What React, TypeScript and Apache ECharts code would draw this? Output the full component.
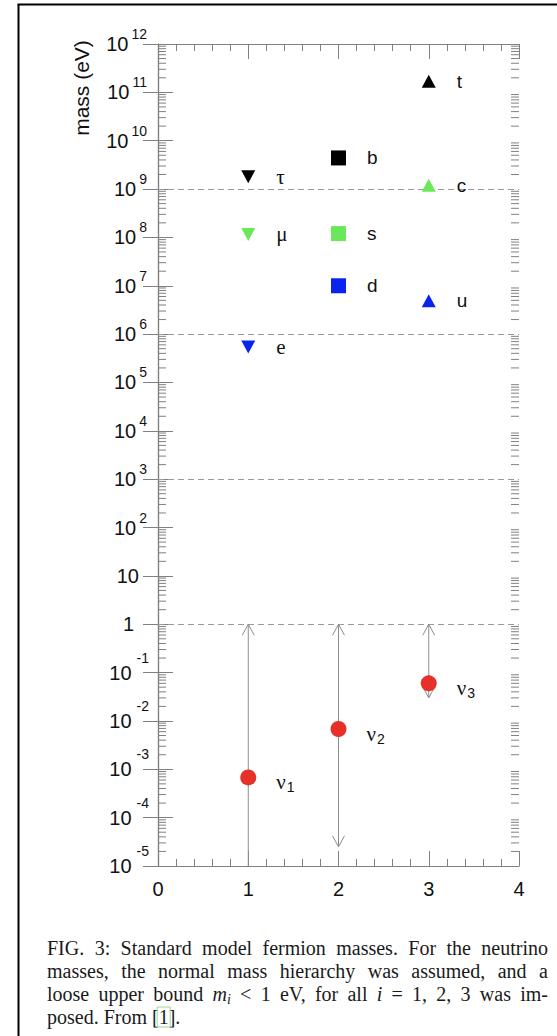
import React, { useEffect, useRef } from 'react';
import * as echarts from 'echarts';

// Generation slots on the horizontal axis
const leptonSlot = 1;
const downQuarkSlot = 2;
const upQuarkSlot = 3;

// Charged leptons (eV)
const leptonNames = ['τ', 'μ', 'e'];
const leptonMass = [1.8e9, 1.15e8, 5.4e5];

// Down-type quarks (eV)
const downQuarkNames = ['b', 's', 'd'];
const downQuarkMass = [4.4e9, 1.2e8, 1.0e7];

// Up-type quarks (eV)
const upQuarkNames = ['t', 'c', 'u'];
const upQuarkMass = [1.7e11, 1.2e9, 4.9e6];

// Neutrinos (eV): central value, allowed range, and whether the lower end is an arrow
const neutrinoSlots = [1, 2, 3];
const neutrinoIndex = ['1', '2', '3'];
const neutrinoMass = [6.8e-4, 6.8e-3, 6.0e-2];
const neutrinoLow = [1e-5, 2.5e-5, 3e-2];
const neutrinoHigh = [1, 1, 1];
const neutrinoLowArrow = [0, 1, 1];

// Colours per generation: third, second, first
const generationColors = ['#000000', '#6be85a', '#0a24f0'];
const neutrinoColor = '#e6302a';

// Horizontal dashed guides (eV)
const guideMass = [1e9, 1e6, 1e3, 1, 1e-3];

// Axis ranges
const xMin = 0;
const xMax = 4;
const massMin = 1e-5;
const massMax = 1e12;

const captionLines = [
  'FIG. 3: Standard model fermion masses. For the neutrino',
  'masses, the normal mass hierarchy was assumed, and a',
  'loose upper bound *m*~i~ < 1 eV, for all *i* = 1, 2, 3 was im-',
  'posed. From [1].',
];

const AXIS_GRAY = '#808080';
const SANS = '"Liberation Sans", Arial, Helvetica, sans-serif';
const SERIF = '"Liberation Serif", "Times New Roman", serif';

function buildMinorTicks(): number[] {
  const out: number[] = [];
  const lo = Math.round(Math.log10(massMin));
  const hi = Math.round(Math.log10(massMax));
  for (let e = lo; e < hi; e++) {
    for (let k = 2; k <= 9; k++) out.push(k * Math.pow(10, e));
  }
  return out;
}

type Seg = { t: string; k: 'r' | 'i' | 'sub' };

function parseWord(w: string): Seg[] {
  const parts = w.split(/(\*[^*]+\*|~[^~]+~)/).filter((p) => p.length > 0);
  return parts.map((p) => {
    if (p.startsWith('*')) return { t: p.slice(1, -1), k: 'i' as const };
    if (p.startsWith('~')) return { t: p.slice(1, -1), k: 'sub' as const };
    return { t: p, k: 'r' as const };
  });
}

function buildCaption(): any[] {
  const canvas = document.createElement('canvas');
  const ctx = canvas.getContext('2d')!;
  const size = 20;
  const subSize = 14;
  const fontOf = (k: Seg['k']) =>
    k === 'r'
      ? `${size}px ${SERIF}`
      : k === 'i'
      ? `italic ${size}px ${SERIF}`
      : `italic ${subSize}px ${SERIF}`;
  const measure = (s: Seg) => {
    ctx.font = fontOf(s.k);
    return ctx.measureText(s.t).width;
  };
  ctx.font = fontOf('r');
  const spaceW = ctx.measureText(' ').width;
  const left = 47;
  const right = 548;
  const lineY = [948, 971, 994, 1017];
  const els: any[] = [];
  captionLines.forEach((line, li) => {
    const words = line.split(' ').map(parseWord);
    const widths = words.map((segs) => segs.reduce((a, s) => a + measure(s), 0));
    const total = widths.reduce((a, b) => a + b, 0);
    const justify = li < captionLines.length - 1;
    const gap = justify ? Math.max(2, (right - left - total) / (words.length - 1)) : spaceW;
    let x = left;
    words.forEach((segs, wi) => {
      let sx = x;
      segs.forEach((s) => {
        const w = measure(s);
        els.push({
          type: 'text',
          x: sx,
          y: lineY[li] + (s.k === 'sub' ? 5 : 0),
          silent: true,
          style: {
            text: s.t,
            fontSize: s.k === 'sub' ? subSize : size,
            fontFamily: SERIF,
            fontStyle: s.k === 'r' ? 'normal' : 'italic',
            fill: '#1a1a1a',
            align: 'left',
            verticalAlign: 'middle',
            textAlign: 'left',
            textVerticalAlign: 'middle',
          },
        });
        // reference-link box around the citation number
        if (s.t.includes('[1]')) {
          ctx.font = fontOf('r');
          const pre = ctx.measureText(s.t.slice(0, s.t.indexOf('[1]') + 1)).width;
          const one = ctx.measureText('1').width;
          els.push({
            type: 'rect',
            silent: true,
            shape: { x: sx + pre - 1.5, y: lineY[li] - 10, width: one + 3, height: 20 },
            style: { fill: 'none', stroke: '#9ad89a', lineWidth: 1 },
          });
        }
        sx += w;
      });
      x += widths[wi] + gap;
    });
  });
  return els;
}

export default function App() {
  const ref = useRef<HTMLDivElement>(null);

  useEffect(() => {
    if (!ref.current) return;
    const chart = echarts.init(ref.current, undefined, { renderer: 'svg' });

    const minorTicks = buildMinorTicks();

    const axisTick = { inside: true, length: 15, lineStyle: { color: AXIS_GRAY, width: 1 } };
    const axisLine = { show: true, lineStyle: { color: AXIS_GRAY, width: 1.2 } };

    const yLabel = (v: number) => {
      const e = Math.round(Math.log10(v));
      if (e === 0) return '{b|1}{g1| }';
      if (e === 1) return '{b|10}{g2| }';
      return e < 0 ? `{b|10}{neg|${e}}` : `{b|10}{pos|${e}}`;
    };

    const pointLabel = (family: string, size: number) => ({
      show: true,
      position: 'right' as const,
      distance: 21,
      formatter: '{b}',
      color: '#111',
      fontFamily: family,
      fontSize: size,
    });

    const option: any = {
      animation: false,
      backgroundColor: '#ffffff',
      grid: { left: 158, top: 44, width: 361, height: 822, containLabel: false },
      xAxis: [
        {
          type: 'value',
          min: xMin,
          max: xMax,
          interval: 1,
          position: 'bottom',
          axisLine,
          axisTick,
          minorTick: { show: true, splitNumber: 5, length: 7, lineStyle: { color: AXIS_GRAY, width: 1 } },
          splitLine: { show: false },
          axisLabel: { fontSize: 20, fontFamily: SANS, color: '#111', margin: 13 },
        },
        {
          type: 'value',
          min: xMin,
          max: xMax,
          interval: 1,
          position: 'top',
          axisLine,
          axisTick,
          minorTick: { show: true, splitNumber: 5, length: 7, lineStyle: { color: AXIS_GRAY, width: 1 } },
          splitLine: { show: false },
          axisLabel: { show: false },
        },
      ],
      yAxis: [
        {
          type: 'log',
          logBase: 10,
          min: massMin,
          max: massMax,
          interval: 1,
          position: 'left',
          axisLine,
          axisTick,
          splitLine: { show: false },
          axisLabel: {
            margin: 9,
            formatter: yLabel,
            rich: {
              b: { fontSize: 20, fontFamily: SANS, color: '#111' },
              pos: { fontSize: 14, fontFamily: SANS, color: '#111', padding: [0, 2, 20, 3] },
              neg: { fontSize: 14, fontFamily: SANS, color: '#111', padding: [0, 0, 30, 5] },
              g1: { width: 15, fontSize: 14 },
              g2: { width: 10, fontSize: 14 },
            },
          },
        },
        {
          type: 'log',
          logBase: 10,
          min: massMin,
          max: massMax,
          interval: 1,
          position: 'right',
          axisLine,
          axisTick,
          splitLine: { show: false },
          axisLabel: { show: false },
        },
      ],
      graphic: [
        {
          type: 'line',
          silent: true,
          shape: { x1: 18.5, y1: 4.5, x2: 18.5, y2: 1036 },
          style: { stroke: '#000', lineWidth: 2 },
        },
        {
          type: 'line',
          silent: true,
          shape: { x1: 17.5, y1: 4.5, x2: 557, y2: 4.5 },
          style: { stroke: '#000', lineWidth: 2 },
        },
        {
          type: 'text',
          x: 81,
          y: 88,
          rotation: Math.PI / 2,
          silent: true,
          style: {
            text: 'mass (eV)',
            fontSize: 21,
            fontFamily: SANS,
            fill: '#111',
            align: 'center',
            verticalAlign: 'middle',
            textAlign: 'center',
            textVerticalAlign: 'middle',
          },
        },
        ...buildCaption(),
      ],
      series: [
        {
          // log-scale minor ticks on the left and right frame edges
          type: 'custom',
          xAxisIndex: 0,
          yAxisIndex: 0,
          silent: true,
          encode: { x: 0, y: 1 },
          data: minorTicks.map((v) => [0, v]),
          renderItem: (params: any, api: any) => {
            const cs = params.coordSys;
            const y = api.coord([0, api.value(1)])[1];
            return {
              type: 'group',
              children: [
                { type: 'line', shape: { x1: cs.x, y1: y, x2: cs.x + 8, y2: y }, style: { stroke: AXIS_GRAY, lineWidth: 1 } },
                {
                  type: 'line',
                  shape: { x1: cs.x + cs.width - 8, y1: y, x2: cs.x + cs.width, y2: y },
                  style: { stroke: AXIS_GRAY, lineWidth: 1 },
                },
              ],
            };
          },
          z: 1,
        },
        {
          // neutrino mass ranges with open arrowheads
          type: 'custom',
          silent: true,
          encode: { x: 0, y: [1, 2] },
          data: neutrinoSlots.map((x, i) => [x, neutrinoLow[i], neutrinoHigh[i], neutrinoLowArrow[i]]),
          renderItem: (params: any, api: any) => {
            const x = api.value(0);
            const top = api.coord([x, api.value(2)]);
            const bot = api.coord([x, api.value(1)]);
            const st = { stroke: '#8c8c8c', lineWidth: 1, fill: 'none' };
            const children: any[] = [
              { type: 'line', shape: { x1: top[0], y1: top[1], x2: bot[0], y2: bot[1] }, style: st },
              {
                type: 'polyline',
                shape: { points: [[top[0] - 6, top[1] + 11], [top[0], top[1]], [top[0] + 6, top[1] + 11]] },
                style: st,
              },
            ];
            if (api.value(3)) {
              children.push({
                type: 'polyline',
                shape: { points: [[bot[0] - 6, bot[1] - 11], [bot[0], bot[1]], [bot[0] + 6, bot[1] - 11]] },
                style: st,
              });
            }
            return { type: 'group', children };
          },
          z: 2,
        },
        {
          name: 'leptons',
          type: 'scatter',
          symbol: 'triangle',
          symbolRotate: 180,
          symbolSize: [14, 13],
          data: leptonNames.map((n, i) => ({
            name: n,
            value: [leptonSlot, leptonMass[i]],
            itemStyle: { color: generationColors[i], opacity: 1 },
          })),
          label: pointLabel(SERIF, 21),
          markLine: {
            silent: true,
            symbol: 'none',
            label: { show: false },
            lineStyle: { color: '#9a9a9a', type: [6, 4], width: 1 },
            data: guideMass.map((v) => ({ yAxis: v })),
            z: 1,
          },
          z: 3,
        },
        {
          name: 'down quarks',
          type: 'scatter',
          symbol: 'rect',
          symbolSize: 15,
          data: downQuarkNames.map((n, i) => ({
            name: n,
            value: [downQuarkSlot, downQuarkMass[i]],
            itemStyle: { color: generationColors[i], opacity: 1 },
          })),
          label: pointLabel(SANS, 19),
          z: 3,
        },
        {
          name: 'up quarks',
          type: 'scatter',
          symbol: 'triangle',
          symbolSize: [14, 13],
          data: upQuarkNames.map((n, i) => ({
            name: n,
            value: [upQuarkSlot, upQuarkMass[i]],
            itemStyle: { color: generationColors[i], opacity: 1 },
          })),
          label: pointLabel(SANS, 19),
          z: 3,
        },
        {
          name: 'neutrinos',
          type: 'scatter',
          symbol: 'circle',
          symbolSize: 16,
          itemStyle: { color: neutrinoColor, opacity: 1 },
          data: neutrinoSlots.map((x, i) => ({ name: neutrinoIndex[i], value: [x, neutrinoMass[i]] })),
          label: {
            show: true,
            position: 'right',
            distance: 20,
            offset: [0, 5],
            formatter: (p: any) => `{g|ν}{s|${p.name}}`,
            rich: {
              g: { fontFamily: SERIF, fontSize: 21, color: '#111' },
              s: { fontFamily: SANS, fontSize: 14, color: '#111', padding: [10, 0, 0, 1] },
            },
          },
          z: 4,
        },
      ],
    };

    chart.setOption(option);
    return () => chart.dispose();
  }, []);

  return (
    <div
      ref={ref}
      style={{ position: 'absolute', left: 0, top: 0, width: 557, height: 1036, background: '#fff' }}
    />
  );
}
